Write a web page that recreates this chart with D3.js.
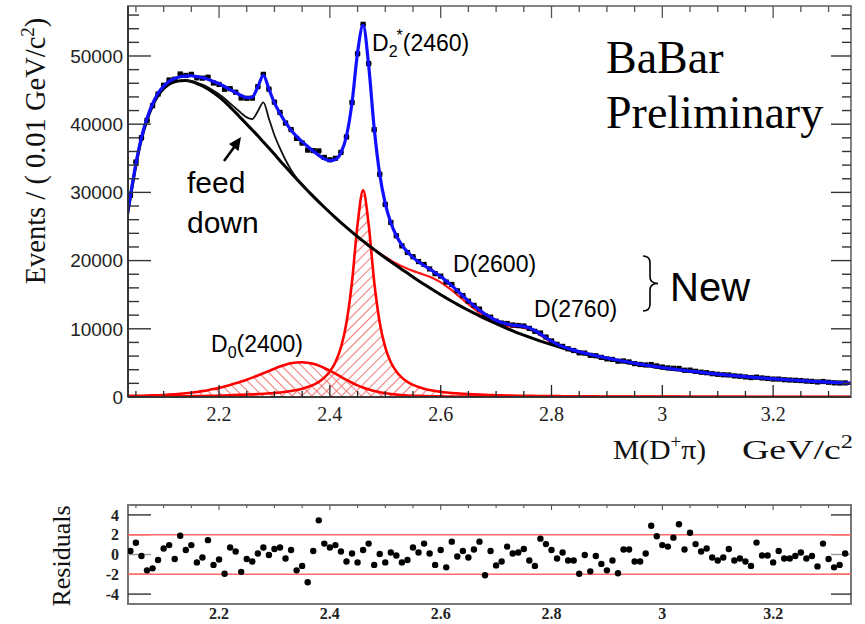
<!DOCTYPE html>
<html><head><meta charset="utf-8">
<script src="https://cdn.jsdelivr.net/npm/d3@7"></script>
<style>body{margin:0;background:#fff}svg{display:block}</style>
</head><body><svg id="c" width="865" height="624"></svg>
<script>
// ---------- DATA ----------
const gridStart = 2.03, gridStep = 0.01; // fit curves sampled 2.03 .. 3.35
const bgFit = [
24500,29300,34000,37800,40600,42700,44200,45200,45850,46200,
46380,46400,46250,45950,45600,45150,44600,44000,43300,42500,
41700,40850,40000,39150,38300,37400,36500,35580,34650,33750,
32850,31970,31100,30250,29420,28610,27820,27050,26300,25570,
24860,24170,23500,22850,22220,21610,21010,20420,19840,19270,
18710,18170,17610,17060,16530,16010,15500,15000,14520,14050,
13590,13150,12720,12300,11890,11500,11120,10750,10390,10040,
9700,9380,9070,8770,8480,8200,7930,7670,7420,7180,
6950,6730,6520,6320,6130,5950,5780,5610,5450,5300,
5150,5010,4870,4740,4610,4490,4370,4260,4150,4040,
3940,3840,3740,3650,3560,3470,3390,3310,3230,3150,
3080,3010,2940,2870,2810,2750,2690,2630,2570,2520,
2470,2420,2370,2320,2270,2230,2190,2150,2110,2070,
2030,1990,1950];
const totalFit = [
24690,29510,34230,38050,40870,43000,44540,45580,46280,46690,
46950,47050,47100,46970,46810,46580,46270,45940,45530,45060,
44630,44210,43890,43970,45480,47160,45150,43120,41580,40250,
39120,38220,37450,36740,36060,35430,34920,34650,34820,35810,
38270,43160,50510,54530,48640,39410,32660,28360,25560,23650,
22280,21270,20470,19830,19280,18770,18230,17660,17020,16330,
15590,14830,14090,13380,12740,12170,11670,11240,10910,10690,
10550,10460,10350,10120,9740,9230,8690,8180,7750,7400,
7120,6870,6640,6440,6240,6060,5880,5710,5550,5390,
5240,5100,4950,4820,4690,4560,4440,4330,4220,4100,
4000,3900,3800,3710,3620,3520,3440,3360,3280,3200,
3130,3060,2980,2910,2850,2790,2730,2670,2610,2560,
2510,2460,2400,2350,2300,2260,2220,2180,2140,2100,
2060,2020,1980];
const d0Comp = [
150,160,175,190,210,235,265,300,345,400,
465,540,630,735,860,1000,1160,1340,1540,1760,
2000,2260,2540,2840,3160,3490,3820,4150,4460,4730,
4940,5070,5100,5030,4860,4600,4260,3860,3420,2960,
2510,2090,1710,1380,1100,870,690,550,440,350,
280,230,190,160,135,115,100,90,80,75,
70,65,60,56,52,49,46,43,41,39,
37,35,33,32,31,30,29,28,27,26,
25,24,23,23,22,21,21,20,20,19,
19,18,18,17,17,16,16,16,15,15,
15,14,14,14,13,13,13,13,12,12,
12,12,11,11,11,11,11,10,10,10,
10,10,9,9,9,9,9,9,8,8,
8,8,8];
const d2starComp = [
40,45,50,55,60,65,70,75,80,90,
100,110,120,135,150,165,185,205,230,260,
290,320,350,380,420,470,530,590,670,770,
880,1030,1220,1460,1780,2220,2840,3740,5100,7280,
10900,16900,25300,30300,25300,16900,10900,7280,5100,3740,
2840,2220,1780,1460,1220,1030,880,770,670,590,
530,470,420,380,345,315,290,265,243,225,
208,194,181,169,158,148,139,131,124,117,
111,105,100,95,91,87,83,79,76,73,
70,67,64,62,60,57,55,53,51,49,
48,46,45,43,42,41,39,38,37,36,
35,34,33,32,31,30,30,29,28,27,
27,26,25,25,24,23,23,22,22,21,
21,20,20];
const feedStart = 2.14;
const feedComp = [0,100,150,200,260,320,390,460,540,640,780,1000,1600,3600,5800,4300,2800,1800,1000,450,150,30,0];
const d2600Start = 2.46;
const d2600Comp = [0,15,30,58,106,181,293,449,648,886,1145,1395,1610,1750,1800,1750,1610,1395,1145,886,648,449,293,181,106,58,30,15,0];
const d2760Start = 2.67;
const d2760Comp = [0,10,31,80,181,352,591,855,1068,1150,1068,855,591,352,181,80,31,10,0];

const binStart = 2.04, binWidth = 0.01; // data bins 2.04 .. 3.33
const dataCounts = [
29570,34450,38020,40550,42710,44420,45710,46480,46590,47360,
47150,47310,46800,46750,46890,46040,45830,45120,45210,44690,
43840,43800,43820,45500,47310,45140,43230,41720,40170,39210,
37910,37230,36200,36130,36080,35130,34780,35000,35870,38130,
43180,50330,54640,48880,39200,32670,28230,25590,23640,22160,
21190,20570,19860,19430,18780,18090,17720,16850,16500,15570,
14870,14050,13440,12890,11940,11710,11120,10840,10770,10560,
10480,10410,10060,9630,9380,8790,8220,7720,7420,7070,
6820,6480,6440,6110,6050,5810,5590,5510,5250,5280,
5140,4900,4770,4700,4760,4560,4390,4270,4210,4190,
3930,3940,3770,3640,3560,3420,3330,3260,3230,3100,
3040,2940,2850,2910,2790,2720,2630,2630,2540,2490,
2450,2410,2330,2290,2200,2270,2160,2080,2050,2070];
const residuals = [
0.35,1.18,-0.15,-1.6,-1.4,-0.55,0.6,0.95,-0.45,1.9,
0.45,0.95,-0.8,-0.3,1.45,-1.05,-0.5,-1.95,0.7,0.3,
-1.75,-0.45,-0.7,0.1,0.7,-0.05,0.55,0.7,-0.4,0.45,
-1.6,-1.15,-2.8,0.35,3.45,1.1,0.7,0.95,0.3,-0.7,
0.1,-0.8,0.45,1.1,-1.05,0.05,-0.8,0.2,-0.1,-0.8,
-0.55,0.7,0.2,1.1,0.1,-1.05,0.45,-1.3,1.3,-0.2,
0.35,-0.3,0.5,1.3,-2.1,0.35,-1.1,-0.7,0.8,0.1,
0.2,0.55,-0.6,-1.15,1.6,1.05,0.45,-0.4,0.2,-0.6,
-0.6,-1.95,-0.05,-1.7,-0.15,-0.95,-1.6,-0.6,-1.9,0.5,
0.5,-0.7,-0.7,0.1,2.9,1.85,0.95,0.8,1.7,3.05,
0.5,2.2,1.05,0.3,0.6,-0.3,-0.6,-0.3,0.55,-0.6,
-0.4,-0.7,-1.15,1.2,-0.1,-0.1,-0.8,0.35,-0.4,-0.4,
-0.15,0.2,-0.4,-0.15,-1.2,1.1,-0.45,-1.3,-1.05,0.1];

const xTicks = [2.2, 2.4, 2.6, 2.8, 3.0, 3.2];
const xTickLabels = ["2.2", "2.4", "2.6", "2.8", "3", "3.2"];
const yTicks = [0, 10000, 20000, 30000, 40000, 50000];
const resTicks = [4, 2, 0, -2, -4];
const resLimits = [2, -2];

// ---------- LAYOUT ----------
const svg = d3.select("#c");
const SERIF = "'Liberation Serif','Times New Roman',serif";
const SANS = "'Liberation Sans',Arial,Helvetica,sans-serif";
const L = 128, R = 851, T = 6, B = 397;
const RT = 505, RB = 604;

const x = d3.scaleLinear().domain([2.0357, 3.3405]).range([L, R]);
const y = d3.scaleLinear().domain([0, 57330]).range([B, T]);
const yr = d3.scaleLinear().domain([-5, 5]).range([RB, RT]);

const defs = svg.append("defs");
defs.append("clipPath").attr("id", "clipMain").append("rect")
  .attr("x", L).attr("y", T - 2).attr("width", R - L).attr("height", B - T + 2);
defs.append("clipPath").attr("id", "clipRes").append("rect")
  .attr("x", L).attr("y", RT).attr("width", R - L).attr("height", RB - RT);
function hatch(id, angle) {
  const p = defs.append("pattern").attr("id", id).attr("patternUnits", "userSpaceOnUse")
    .attr("width", 7).attr("height", 7).attr("patternTransform", `rotate(${angle})`);
  p.append("line").attr("x1", 3.5).attr("y1", 0).attr("x2", 3.5).attr("y2", 7)
    .attr("stroke", "#f27c7c").attr("stroke-width", 1.1);
}
hatch("hatchBack", -45);
hatch("hatchFwd", 45);

const r3 = v => Math.round(v * 1000) / 1000;
const toPts = (start, arr) => arr.map((v, i) => ({ m: r3(start + i * gridStep), v }));
const bgAt = m => bgFit[Math.round((m - gridStart) / gridStep)];
const onBg = pts => pts.map(p => ({ m: p.m, v: p.v + bgAt(p.m) }));

const line = d3.line().x(d => x(d.m)).y(d => y(d.v)).curve(d3.curveMonotoneX);
const area = d3.area().x(d => x(d.m)).y0(y(0)).y1(d => y(d.v)).curve(d3.curveMonotoneX);

const main = svg.append("g").attr("clip-path", "url(#clipMain)");

const d0Pts = toPts(gridStart, d0Comp);
const d2Pts = toPts(gridStart, d2starComp);
main.append("path").attr("d", area(d0Pts)).attr("fill", "url(#hatchBack)");
main.append("path").attr("d", area(d2Pts)).attr("fill", "url(#hatchFwd)");

// red: background + new states
main.append("path").attr("d", line(onBg(toPts(d2600Start, d2600Comp))))
  .attr("fill", "none").attr("stroke", "#ff1a1a").attr("stroke-width", 2.2);
main.append("path").attr("d", line(onBg(toPts(d2760Start, d2760Comp))))
  .attr("fill", "none").attr("stroke", "#ff1a1a").attr("stroke-width", 2.2);

// red components
main.append("path").attr("d", line(d0Pts)).attr("fill", "none")
  .attr("stroke", "#ff0000").attr("stroke-width", 2.6);
main.append("path").attr("d", line(d2Pts)).attr("fill", "none")
  .attr("stroke", "#ff0000").attr("stroke-width", 2.6);

// background and feed-down
main.append("path").attr("d", line(toPts(gridStart, bgFit))).attr("fill", "none")
  .attr("stroke", "#000").attr("stroke-width", 3);
main.append("path").attr("d", line(onBg(toPts(feedStart, feedComp)))).attr("fill", "none")
  .attr("stroke", "#111").attr("stroke-width", 1.8);

// data points
const bins = dataCounts.map((v, i) => ({ m: r3(binStart + i * binWidth), v, r: residuals[i] }));
const dg = main.append("g");
dg.selectAll("line").data(bins).join("line")
  .attr("x1", d => x(d.m - binWidth / 2)).attr("x2", d => x(d.m + binWidth / 2))
  .attr("y1", d => y(d.v)).attr("y2", d => y(d.v)).attr("stroke", "#000").attr("stroke-width", 1.3);
dg.selectAll("rect").data(bins).join("rect")
  .attr("x", d => x(d.m) - 2.6).attr("y", d => y(d.v) - 2.6).attr("width", 5.2).attr("height", 5.2)
  .attr("fill", "#000");

// total fit
main.append("path").attr("d", line(toPts(gridStart, totalFit))).attr("fill", "none")
  .attr("stroke", "#1010ff").attr("stroke-width", 3.2);

// ---------- MAIN AXES ----------
const ax = svg.append("g");
ax.append("rect").attr("x", L).attr("y", T).attr("width", R - L).attr("height", B - T)
  .attr("fill", "none").attr("stroke", "#666").attr("stroke-width", 1.6);
ax.append("line").attr("x1", L).attr("x2", L).attr("y1", T).attr("y2", B).attr("stroke", "#222").attr("stroke-width", 1.6);
ax.append("line").attr("x1", L).attr("x2", R).attr("y1", B).attr("y2", B).attr("stroke", "#222").attr("stroke-width", 1.6);

const minorX = d3.range(2.05, 3.34, 0.05).map(r3);
const isMajorX = m => xTicks.some(t => Math.abs(t - m) < 1e-6);
minorX.forEach(m => {
  const len = isMajorX(m) ? 12 : 6;
  ax.append("line").attr("x1", x(m)).attr("x2", x(m)).attr("y1", B).attr("y2", B - len).attr("stroke", "#222").attr("stroke-width", 1.3);
  ax.append("line").attr("x1", x(m)).attr("x2", x(m)).attr("y1", T).attr("y2", T + len).attr("stroke", "#555").attr("stroke-width", 1.3);
});
d3.range(0, 57001, 2000).forEach(v => {
  const major = v % 10000 === 0;
  ax.append("line").attr("x1", L).attr("x2", L + (major ? 23 : 11)).attr("y1", y(v)).attr("y2", y(v))
    .attr("stroke", "#333").attr("stroke-width", 1.4);
  ax.append("line").attr("x1", R).attr("x2", R - (major ? 20 : 9)).attr("y1", y(v)).attr("y2", y(v))
    .attr("stroke", "#333").attr("stroke-width", 1.4);
});
ax.selectAll("text.yl").data(yTicks).join("text").attr("class", "yl")
  .attr("x", 123).attr("y", d => y(d)).attr("dy", "0.36em").attr("text-anchor", "end")
  .attr("font-family", SANS).attr("font-size", 19).attr("fill", "#222").text(d => String(d));
ax.selectAll("text.xl").data(xTicks).join("text").attr("class", "xl")
  .attr("x", d => x(d)).attr("y", 421).attr("text-anchor", "middle")
  .attr("font-family", SERIF).attr("font-size", 20).attr("fill", "#222").text((d, i) => xTickLabels[i]);

// axis titles
const yt = svg.append("text").attr("transform", "translate(45,151) rotate(-90)")
  .attr("text-anchor", "middle").attr("font-family", SERIF).attr("font-size", 28.5).attr("fill", "#111");
yt.append("tspan").text("Events / ( 0.01 GeV/c");
yt.append("tspan").attr("dy", -11).attr("font-size", 19).text("2");
yt.append("tspan").attr("dy", 11).text(")");

const xt1 = svg.append("text").attr("x", 613).attr("y", 459).attr("font-family", SERIF).attr("font-size", 28)
  .attr("fill", "#111").attr("textLength", 93).attr("lengthAdjust", "spacingAndGlyphs");
xt1.append("tspan").text("M(D");
xt1.append("tspan").attr("dy", -11).attr("font-size", 18).text("+");
xt1.append("tspan").attr("dy", 11).text("π)");
const xt2 = svg.append("text").attr("x", 742).attr("y", 459).attr("font-family", SERIF).attr("font-size", 28)
  .attr("fill", "#111").attr("textLength", 111).attr("lengthAdjust", "spacingAndGlyphs");
xt2.append("tspan").text("GeV/c");
xt2.append("tspan").attr("dy", -11).attr("font-size", 18).text("2");

// ---------- ANNOTATIONS ----------
const ann = svg.append("g").attr("fill", "#000");
const d2t = ann.append("text").attr("x", 372).attr("y", 51).attr("font-family", SANS).attr("font-size", 23);
d2t.append("tspan").text("D");
d2t.append("tspan").attr("dy", 6).attr("font-size", 16).text("2");
d2t.append("tspan").attr("dy", -16).attr("font-size", 16).attr("dx", -1).text("*");
d2t.append("tspan").attr("dy", 10).text("(2460)");

ann.append("text").attr("x", 606).attr("y", 73).attr("font-family", SERIF).attr("font-size", 46).text("BaBar");
ann.append("text").attr("x", 606).attr("y", 128).attr("font-family", SERIF).attr("font-size", 46).text("Preliminary");

ann.append("text").attr("x", 187).attr("y", 193).attr("font-family", SANS).attr("font-size", 30).text("feed");
ann.append("text").attr("x", 187).attr("y", 233).attr("font-family", SANS).attr("font-size", 30).text("down");
ann.append("line").attr("x1", 224).attr("y1", 161).attr("x2", 235).attr("y2", 146).attr("stroke", "#000").attr("stroke-width", 2.5);
ann.append("path").attr("d", "M241,137 L238.5,151 L229,144 Z").attr("fill", "#000");

ann.append("text").attr("x", 453).attr("y", 272).attr("font-family", SANS).attr("font-size", 23).text("D(2600)");
ann.append("text").attr("x", 534).attr("y", 317).attr("font-family", SANS).attr("font-size", 23).text("D(2760)");
ann.append("path").attr("d", "M643,256 Q650,256 650,263 L650,277 Q650,283.5 658,283.5 Q650,283.5 650,290 L650,304 Q650,311 643,311")
  .attr("fill", "none").attr("stroke", "#000").attr("stroke-width", 1.6);
ann.append("text").attr("x", 670).attr("y", 301).attr("font-family", SANS).attr("font-size", 40).text("New");

const d0t = ann.append("text").attr("x", 211).attr("y", 352).attr("font-family", SANS).attr("font-size", 23);
d0t.append("tspan").text("D");
d0t.append("tspan").attr("dy", 6).attr("font-size", 16).text("0");
d0t.append("tspan").attr("dy", -6).text("(2400)");

// ---------- RESIDUALS ----------
const rg = svg.append("g");
rg.append("rect").attr("x", L).attr("y", RT).attr("width", R - L).attr("height", RB - RT)
  .attr("fill", "none").attr("stroke", "#777").attr("stroke-width", 2);
const tickColor = v => v === 0 ? "#999" : (Math.abs(v) === 2 ? "#c44" : "#333");
resTicks.forEach(v => {
  rg.append("line").attr("x1", L).attr("x2", L + 23).attr("y1", yr(v)).attr("y2", yr(v)).attr("stroke", tickColor(v)).attr("stroke-width", 1.4);
  rg.append("line").attr("x1", R).attr("x2", R - 20).attr("y1", yr(v)).attr("y2", yr(v)).attr("stroke", tickColor(v)).attr("stroke-width", 1.4);
});
minorX.forEach(m => {
  const len = isMajorX(m) ? 5 : 3;
  rg.append("line").attr("x1", x(m)).attr("x2", x(m)).attr("y1", RT).attr("y2", RT + len).attr("stroke", "#555").attr("stroke-width", 1.1);
});
resLimits.forEach(v => {
  rg.append("line").attr("x1", L).attr("x2", R).attr("y1", yr(v)).attr("y2", yr(v))
    .attr("stroke", "#ff6b6b").attr("stroke-width", 1.6);
});
rg.append("g").attr("clip-path", "url(#clipRes)").selectAll("circle").data(bins).join("circle")
  .attr("cx", d => x(d.m)).attr("cy", d => yr(d.r)).attr("r", 3.2).attr("fill", "#000");
rg.selectAll("text.ry").data(resTicks).join("text").attr("class", "ry")
  .attr("x", 119).attr("y", d => yr(d)).attr("dy", "0.35em").attr("text-anchor", "end")
  .attr("font-family", SERIF).attr("font-weight", "bold").attr("font-size", 16).attr("fill", "#222").text(d => String(d));
rg.selectAll("text.rx").data(xTicks).join("text").attr("class", "rx")
  .attr("x", d => x(d)).attr("y", 619).attr("text-anchor", "middle")
  .attr("font-family", SERIF).attr("font-weight", "bold").attr("font-size", 16).attr("fill", "#222").text((d, i) => xTickLabels[i]);
svg.append("text").attr("transform", "translate(70,556) rotate(-90)").attr("text-anchor", "middle")
  .attr("font-family", SERIF).attr("font-size", 26).attr("fill", "#111").text("Residuals");
</script>
</body></html>
